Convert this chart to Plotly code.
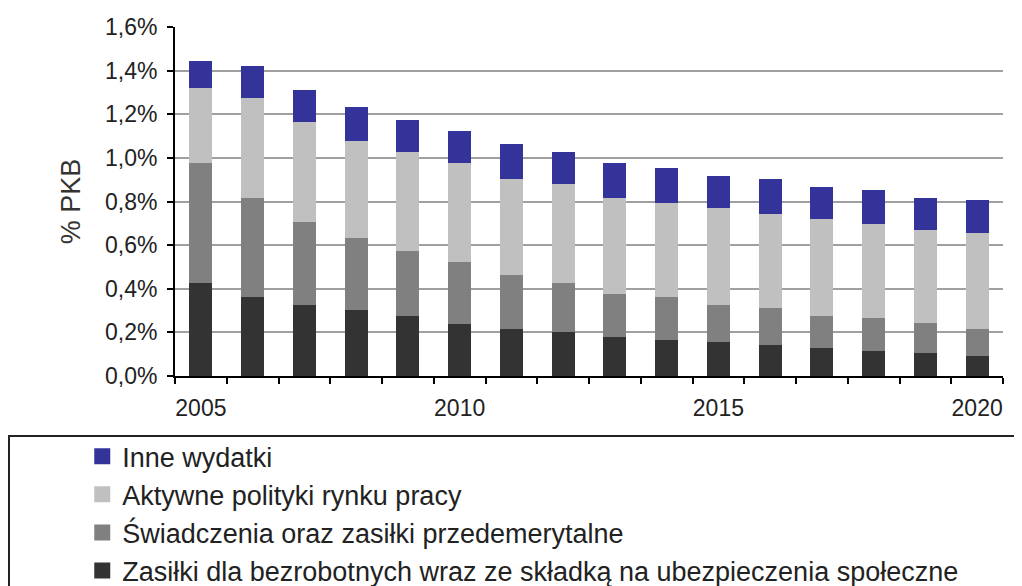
import plotly.graph_objects as go

years = list(range(2005, 2021))

# udział w PKB (%)
zasilki = [0.425, 0.364, 0.326, 0.303, 0.277, 0.240, 0.216, 0.202,
           0.179, 0.165, 0.155, 0.141, 0.130, 0.116, 0.104, 0.093]
swiadczenia = [0.553, 0.454, 0.382, 0.331, 0.296, 0.284, 0.246, 0.223,
               0.196, 0.197, 0.172, 0.172, 0.147, 0.149, 0.138, 0.123]
aktywne = [0.344, 0.456, 0.456, 0.443, 0.455, 0.454, 0.443, 0.456,
           0.443, 0.433, 0.442, 0.431, 0.443, 0.431, 0.429, 0.441]
inne = [0.124, 0.148, 0.145, 0.158, 0.146, 0.147, 0.159, 0.145,
        0.160, 0.158, 0.148, 0.160, 0.147, 0.159, 0.147, 0.149]

y_ticks = [0.0, 0.2, 0.4, 0.6, 0.8, 1.0, 1.2, 1.4, 1.6]
y_tick_text = ["0,0%", "0,2%", "0,4%", "0,6%", "0,8%", "1,0%", "1,2%", "1,4%", "1,6%"]
x_ticks = [2005, 2010, 2015, 2020]

series = [
    ("Zasiłki dla bezrobotnych wraz ze składką na ubezpieczenia społeczne", zasilki, "#333333"),
    ("Świadczenia oraz zasiłki przedemerytalne", swiadczenia, "#808080"),
    ("Aktywne polityki rynku pracy", aktywne, "#c0c0c0"),
    ("Inne wydatki", inne, "#333399"),
]

FONT = "Liberation Sans, Arial, sans-serif"

fig = go.Figure()
for name, values, color in series:
    fig.add_trace(
        go.Bar(
            x=years,
            y=values,
            name=name,
            marker={"color": color, "line": {"width": 0}},
            showlegend=False,
        )
    )

# legenda z większymi kwadratami
for name, values, color in reversed(series):
    fig.add_trace(
        go.Scatter(
            x=[None],
            y=[None],
            mode="markers",
            name=name,
            marker={"symbol": "square", "size": 18, "color": color},
        )
    )

fig.add_shape(
    type="rect",
    xref="paper",
    yref="paper",
    x0=-0.2005,
    x1=1.06,
    y0=-0.172,
    y1=-0.7,
    line={"color": "#222222", "width": 2},
    fillcolor="rgba(0,0,0,0)",
)

# strona ma 8px marginesu body, stąd przesunięcie marginesów
fig.update_layout(
    width=1022,
    height=586,
    barmode="stack",
    bargap=0.56,
    plot_bgcolor="white",
    paper_bgcolor="white",
    font={"family": FONT, "color": "#222222"},
    margin={"l": 167, "r": 27, "t": 19, "b": 218, "autoexpand": False},
    showlegend=True,
    legend={
        "x": -0.112,
        "y": -0.161,
        "xanchor": "left",
        "yanchor": "top",
        "font": {"size": 27, "family": FONT, "color": "#222222"},
        "bgcolor": "rgba(0,0,0,0)",
        "borderwidth": 0,
        "traceorder": "normal",
    },
)
fig.update_xaxes(
    range=[2004.5, 2020.5],
    tickvals=x_ticks,
    ticks="",
    tickfont={"size": 23},
    ticklabelstandoff=10,
    showgrid=False,
    showline=True,
    linecolor="black",
    linewidth=2,
    zeroline=False,
    minor={"tick0": 2004.5, "dtick": 1, "ticks": "outside", "ticklen": 6,
           "tickwidth": 2, "tickcolor": "black", "showgrid": False},
)
fig.update_yaxes(
    range=[0, 1.6],
    tickvals=y_ticks,
    ticktext=y_tick_text,
    tickfont={"size": 23},
    ticks="outside",
    ticklen=6,
    tickwidth=2,
    tickcolor="black",
    ticklabelstandoff=5,
    showline=True,
    linecolor="black",
    linewidth=2,
    showgrid=True,
    gridcolor="#a0a0a0",
    gridwidth=2,
    zeroline=False,
    title={"text": "% PKB", "font": {"size": 27, "color": "#333333"}, "standoff": 17},
)

fig.write_html("out.html")
